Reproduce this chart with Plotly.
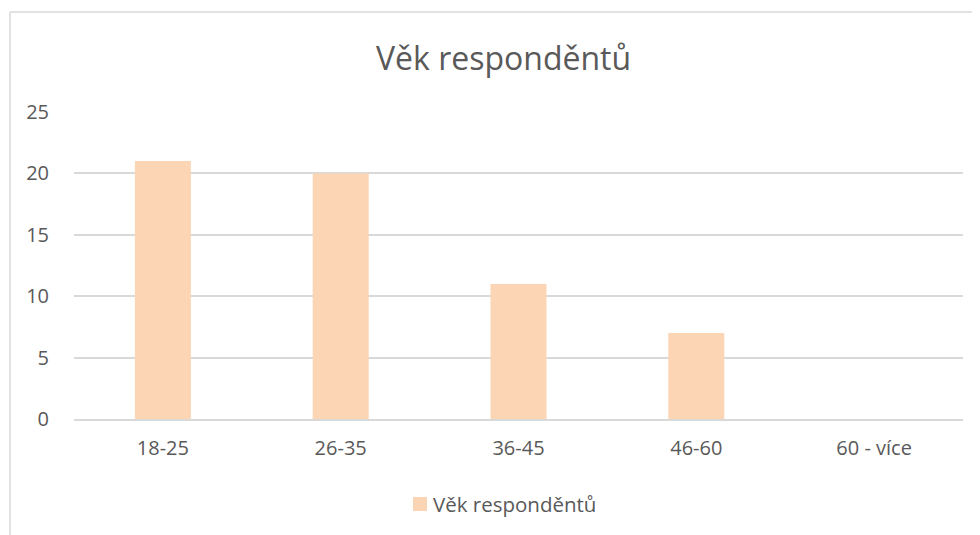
import plotly.graph_objects as go

categories = ["18-25", "26-35", "36-45", "46-60", "60 - více"]
values = [21, 20, 11, 7, 0]
y_ticks = [0, 5, 10, 15, 20, 25]
series_name = "Věk responděntů"
title_text = "Věk responděntů"

BAR = "#FCD5B4"
GRID = "#D9D9D9"
TXT = "#595959"
FONT = "Open Sans, Noto Sans, sans-serif"

OFF = 8  # page body margin
W, H = 980 - OFF, 535 - OFF
L, R, T, B = 74 - OFF, 17, 112 - OFF, 116
pw, ph = W - L - R, H - T - B

def px_x(px):
    return (px - OFF - L) / pw

def px_y(py):
    return (H - B - (py - OFF)) / ph

fig = go.Figure()
fig.add_trace(go.Bar(x=categories, y=values, name=series_name,
                     marker=dict(color=BAR, line=dict(width=0)),
                     showlegend=False))

fig.update_layout(
    width=W, height=H,
    margin=dict(l=L, r=R, t=T, b=B),
    paper_bgcolor="white", plot_bgcolor="white",
    font=dict(family=FONT, color=TXT, size=20),
    bargap=0.685,
    showlegend=False,
    xaxis=dict(showgrid=False, showline=True, linecolor=GRID, linewidth=1.5,
               ticks="", ticklabelstandoff=10,
               tickfont=dict(size=20, color=TXT), fixedrange=True),
    yaxis=dict(range=[0, 25], tickvals=y_ticks, showgrid=True,
               gridcolor=GRID, gridwidth=1.5, zeroline=False,
               showline=False, ticks="", ticklabelstandoff=24,
               tickfont=dict(size=20, color=TXT), fixedrange=True),
    shapes=[
        dict(type="line", xref="paper", yref="paper",
             x0=px_x(10), x1=px_x(1000), y0=px_y(12), y1=px_y(12),
             line=dict(color=GRID, width=1.5)),
        dict(type="line", xref="paper", yref="paper",
             x0=px_x(10), x1=px_x(10), y0=px_y(12), y1=px_y(560),
             line=dict(color=GRID, width=1.5)),
        dict(type="rect", xref="paper", yref="paper",
             x0=px_x(413), x1=px_x(427), y0=px_y(497), y1=px_y(511),
             fillcolor=BAR, line=dict(width=0)),
    ],
    annotations=[
        dict(text=title_text, xref="paper", yref="paper",
             x=px_x(503), y=px_y(58), xanchor="center", yanchor="middle",
             showarrow=False, font=dict(size=32, color=TXT, family=FONT)),
        dict(text=series_name, xref="paper", yref="paper",
             x=px_x(431), y=px_y(504), xanchor="left", yanchor="middle",
             showarrow=False, font=dict(size=20.5, color=TXT, family=FONT)),
    ],
)

fig.write_html("out.html")
